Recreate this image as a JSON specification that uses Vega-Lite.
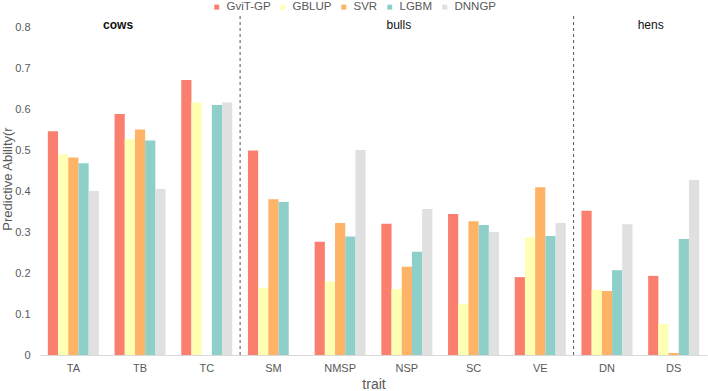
{
  "$schema": "https://vega.github.io/schema/vega-lite/v6.json",
  "width": 667,
  "height": 353,
  "autosize": {"type": "none"},
  "padding": {"left": 40, "top": 2, "right": 1, "bottom": 36},
  "config": {"view": {"stroke": null}, "font": "Liberation Sans"},
  "datasets": {
    "bars": [
      {"trait": "TA", "model": "GviT-GP", "value": 0.546},
      {"trait": "TA", "model": "GBLUP", "value": 0.489},
      {"trait": "TA", "model": "SVR", "value": 0.482},
      {"trait": "TA", "model": "LGBM", "value": 0.468},
      {"trait": "TA", "model": "DNNGP", "value": 0.400},
      {"trait": "TB", "model": "GviT-GP", "value": 0.588},
      {"trait": "TB", "model": "GBLUP", "value": 0.526},
      {"trait": "TB", "model": "SVR", "value": 0.550},
      {"trait": "TB", "model": "LGBM", "value": 0.523},
      {"trait": "TB", "model": "DNNGP", "value": 0.405},
      {"trait": "TC", "model": "GviT-GP", "value": 0.671},
      {"trait": "TC", "model": "GBLUP", "value": 0.616},
      {"trait": "TC", "model": "LGBM", "value": 0.610},
      {"trait": "TC", "model": "DNNGP", "value": 0.616},
      {"trait": "SM", "model": "GviT-GP", "value": 0.499},
      {"trait": "SM", "model": "GBLUP", "value": 0.164},
      {"trait": "SM", "model": "SVR", "value": 0.380},
      {"trait": "SM", "model": "LGBM", "value": 0.373},
      {"trait": "NMSP", "model": "GviT-GP", "value": 0.276},
      {"trait": "NMSP", "model": "GBLUP", "value": 0.179},
      {"trait": "NMSP", "model": "SVR", "value": 0.322},
      {"trait": "NMSP", "model": "LGBM", "value": 0.289},
      {"trait": "NMSP", "model": "DNNGP", "value": 0.500},
      {"trait": "NSP", "model": "GviT-GP", "value": 0.320},
      {"trait": "NSP", "model": "GBLUP", "value": 0.161},
      {"trait": "NSP", "model": "SVR", "value": 0.215},
      {"trait": "NSP", "model": "LGBM", "value": 0.252},
      {"trait": "NSP", "model": "DNNGP", "value": 0.356},
      {"trait": "SC", "model": "GviT-GP", "value": 0.344},
      {"trait": "SC", "model": "GBLUP", "value": 0.124},
      {"trait": "SC", "model": "SVR", "value": 0.326},
      {"trait": "SC", "model": "LGBM", "value": 0.317},
      {"trait": "SC", "model": "DNNGP", "value": 0.300},
      {"trait": "VE", "model": "GviT-GP", "value": 0.190},
      {"trait": "VE", "model": "GBLUP", "value": 0.287},
      {"trait": "VE", "model": "SVR", "value": 0.409},
      {"trait": "VE", "model": "LGBM", "value": 0.290},
      {"trait": "VE", "model": "DNNGP", "value": 0.322},
      {"trait": "DN", "model": "GviT-GP", "value": 0.352},
      {"trait": "DN", "model": "GBLUP", "value": 0.159},
      {"trait": "DN", "model": "SVR", "value": 0.156},
      {"trait": "DN", "model": "LGBM", "value": 0.207},
      {"trait": "DN", "model": "DNNGP", "value": 0.319},
      {"trait": "DS", "model": "GviT-GP", "value": 0.193},
      {"trait": "DS", "model": "GBLUP", "value": 0.076},
      {"trait": "DS", "model": "SVR", "value": 0.005},
      {"trait": "DS", "model": "LGBM", "value": 0.283},
      {"trait": "DS", "model": "DNNGP", "value": 0.427}
    ],
    "dividers": [{"trait": "SM"}, {"trait": "DN"}],
    "groups": [
      {"trait": "TB", "label": "cows"},
      {"trait": "NSP", "label": "bulls"},
      {"trait": "DS", "label": "hens"}
    ]
  },
  "layer": [
    {
      "data": {"name": "bars"},
      "mark": {"type": "bar"},
      "encoding": {
        "x": {
          "field": "trait", "type": "nominal",
          "scale": {"domain": ["TA","TB","TC","SM","NMSP","NSP","SC","VE","DN","DS"], "paddingInner": 0, "paddingOuter": 0},
          "axis": {"title": "trait", "labelAngle": 0, "ticks": false, "domainColor": "#D9D9D9", "labelColor": "#595959", "labelFontSize": 11, "labelPadding": 7, "titleFontSize": 14, "titleFontWeight": "normal", "titleColor": "#595959", "titlePadding": 4}
        },
        "xOffset": {
          "field": "model", "type": "nominal",
          "scale": {"domain": ["GviT-GP","GBLUP","SVR","LGBM","DNNGP"], "paddingInner": 0, "paddingOuter": 0.77}
        },
        "y": {
          "field": "value", "type": "quantitative",
          "scale": {"domain": [0, 0.861], "nice": false},
          "axis": {"title": "Predictive Ability(r", "values": [0,0.1,0.2,0.3,0.4,0.5,0.6,0.7,0.8], "labelExpr": "datum.value == 0 ? '0' : format(datum.value, '.1f')", "grid": false, "domain": false, "ticks": false, "labelColor": "#595959", "labelFontSize": 11, "labelPadding": 10, "titleFontSize": 13, "titleFontWeight": "normal", "titleColor": "#595959", "titlePadding": 0}
        },
        "color": {
          "field": "model", "type": "nominal",
          "scale": {"domain": ["GviT-GP","GBLUP","SVR","LGBM","DNNGP"], "range": ["#FA7F6F","#FFFFB3","#FFB366","#8ECFC9","#E0E0E0"]},
          "legend": {"orient": "none", "legendX": 171, "legendY": -1, "direction": "horizontal", "title": null, "symbolType": "square", "symbolSize": 25, "symbolStrokeWidth": 0, "labelFontSize": 11.5, "labelColor": "#595959", "columnPadding": 6, "labelOffset": 4}
        }
      }
    },
    {
      "data": {"name": "dividers"},
      "mark": {"type": "rule", "strokeDash": [3, 3], "color": "#555555", "strokeWidth": 1},
      "encoding": {
        "x": {"field": "trait", "type": "nominal", "bandPosition": 0},
        "y": {"datum": 0},
        "y2": {"datum": 0.834}
      }
    },
    {
      "data": {"name": "groups"},
      "transform": [{"filter": "datum.label == 'cows'"}],
      "mark": {"type": "text", "fontSize": 12, "fontWeight": "bold", "color": "#111111", "align": "center", "baseline": "middle", "dx": -22},
      "encoding": {
        "x": {"field": "trait", "type": "nominal", "bandPosition": 0.5},
        "y": {"datum": 0.805},
        "text": {"field": "label"}
      }
    },
    {
      "data": {"name": "groups"},
      "transform": [{"filter": "datum.label == 'bulls'"}],
      "mark": {"type": "text", "fontSize": 12, "color": "#111111", "align": "center", "baseline": "middle", "dx": -8},
      "encoding": {
        "x": {"field": "trait", "type": "nominal", "bandPosition": 0.5},
        "y": {"datum": 0.805},
        "text": {"field": "label"}
      }
    },
    {
      "data": {"name": "groups"},
      "transform": [{"filter": "datum.label == 'hens'"}],
      "mark": {"type": "text", "fontSize": 12, "color": "#111111", "align": "center", "baseline": "middle", "dx": -23},
      "encoding": {
        "x": {"field": "trait", "type": "nominal", "bandPosition": 0.5},
        "y": {"datum": 0.805},
        "text": {"field": "label"}
      }
    }
  ]
}
